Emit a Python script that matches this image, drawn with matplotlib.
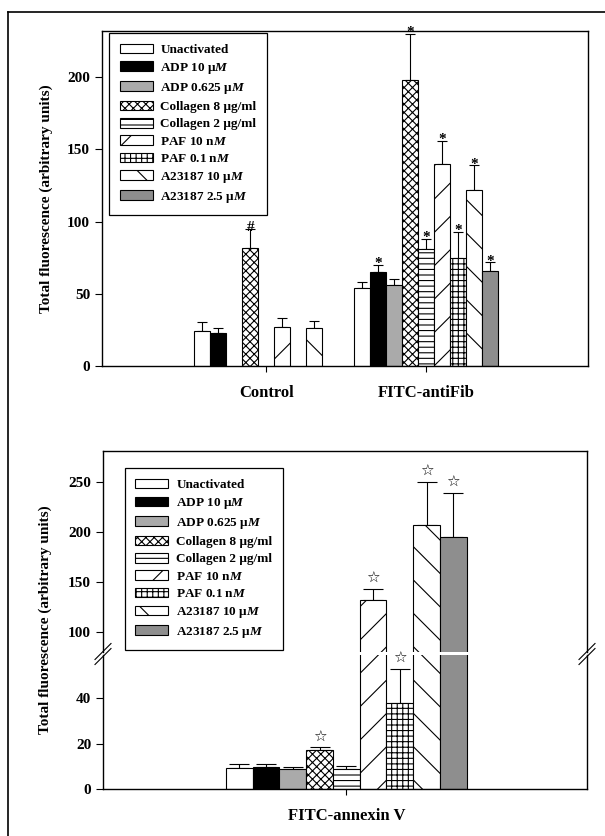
import numpy as np
import matplotlib
matplotlib.use('Agg')
import matplotlib.pyplot as plt
from matplotlib.lines import Line2D

plt.rcParams['font.family'] = ['Liberation Serif', 'DejaVu Sans']
plt.rcParams['font.weight'] = 'bold'
plt.rcParams['axes.labelweight'] = 'bold'
plt.rcParams['mathtext.fontset'] = 'custom'
plt.rcParams['mathtext.rm'] = 'Liberation Serif:bold'
plt.rcParams['mathtext.it'] = 'Liberation Serif:italic:bold'
plt.rcParams['hatch.linewidth'] = 0.8
plt.rcParams['axes.linewidth'] = 1.0

nan = np.nan

# treatments (legend)
treatments = ['Unactivated', r'ADP 10 μ$\mathit{M}$', r'ADP 0.625 μ$\mathit{M}$',
              'Collagen 8 μg/ml', 'Collagen 2 μg/ml', r'PAF 10 n$\mathit{M}$',
              r'PAF 0.1 n$\mathit{M}$', r'A23187 10 μ$\mathit{M}$', r'A23187 2.5 μ$\mathit{M}$']

# top panel: fibrinogen binding
top_groups = ['Control', 'FITC-antiFib']
ctrl_mean = [24, 23, nan, 82, nan, 27, nan, 26, nan]
ctrl_err = [6.5, 3.5, nan, 13, nan, 6, nan, 5, nan]
ctrl_marks = ['', '', '', '#', '', '', '', '', '']
fib_mean = [54, 65, 56, 198, 81, 140, 75, 122, 66]
fib_err = [4, 5, 4, 32, 7, 16, 18, 17, 6]
fib_marks = ['', '*', '', '*', '*', '*', '*', '*', '*']

# bottom panel: annexin V binding
bot_group = 'FITC-annexin V'
anx_mean = [9.2, 9.6, 8.8, 17, 8.8, 132, 38, 207, 195]
anx_err = [1.6, 1.4, 0.8, 1.4, 1.2, 11, 15, 43, 44]
anx_marks = ['', '', '', '☆', '', '☆', '☆', '☆', '☆']

faces = ['white', 'black', '#aaaaaa', 'white', 'white', 'white', 'white', 'white', '#8e8e8e']
hatches = [None, None, None, 'xxxx', '---', '/', '+++', '\\', None]

W, H = 605, 836
fig = plt.figure(figsize=(W / 100, H / 100), dpi=100)

def px_axes(x0, y0, x1, y1):
    return fig.add_axes([x0 / W, 1 - y1 / H, (x1 - x0) / W, (y1 - y0) / H])

def draw_bars(ax, centers, means, errs, width, capsize):
    n = len(treatments)
    handles = []
    for i in range(n):
        xs = [c + (i - (n - 1) / 2) * width for c in centers]
        hs = [m[i] for m in means]
        es = [e[i] for e in errs]
        b = ax.bar(xs, hs, width=width, color=faces[i], edgecolor='black',
                   hatch=hatches[i], linewidth=0.8, label=treatments[i], zorder=2)
        ax.errorbar(xs, hs, yerr=[[0] * len(hs), es], fmt='none', ecolor='black',
                    elinewidth=0.8, capsize=capsize, capthick=0.8, zorder=1)
        handles.append(b)
    return handles

def draw_marks(ax, centers, means, errs, marks, width, size, fam=None, dy=0):
    n = len(treatments)
    for c, m, e, mk in zip(centers, means, errs, marks):
        for i in range(n):
            if mk[i]:
                x = c + (i - (n - 1) / 2) * width
                kw = {'family': fam} if fam else {}
                ax.annotate(mk[i], (x, m[i] + e[i]), xytext=(0, dy), textcoords='offset points',
                            ha='center', va='bottom', fontsize=size, clip_on=False, **kw)

def bold_ticks(ax):
    for t in ax.get_xticklabels() + ax.get_yticklabels():
        t.set_fontweight('bold')

leg_kw = dict(fontsize=9.5, frameon=True, fancybox=False, edgecolor='black', framealpha=1,
              handlelength=2.5, handleheight=0.75, labelspacing=0.37, borderpad=0.8,
              handletextpad=0.6, borderaxespad=0)

# ---- top panel
ax1 = px_axes(102, 31, 588, 366)
bw = 0.1
centers = [0, 1]
handles = draw_bars(ax1, centers, [ctrl_mean, fib_mean], [ctrl_err, fib_err], bw, 3.5)
draw_marks(ax1, centers, [ctrl_mean, fib_mean], [ctrl_err, fib_err],
           [ctrl_marks, fib_marks], bw, 11, dy=-4)
ax1.set_xlim(-1.025, 2.01)
ax1.set_ylim(0, 232)
ax1.set_yticks([0, 50, 100, 150, 200])
ax1.set_xticks(centers)
ax1.set_xticklabels(top_groups, fontsize=12)
ax1.tick_params(axis='x', length=4, pad=10)
ax1.tick_params(axis='y', length=5, labelsize=11, direction='out')
ax1.set_ylabel('Total fluorescence (arbitrary units)', fontsize=11, labelpad=10)
bold_ticks(ax1)
ax1.legend(handles=handles, loc='upper left', bbox_to_anchor=(0.0144, 0.994),
           **leg_kw).get_frame().set_linewidth(0.9)

# ---- bottom panel (broken axis)
axu = px_axes(103, 451, 587, 652)
axl = px_axes(103, 655, 587, 789)
bw2 = 0.1
c2 = [0]
for ax in (axu, axl):
    h2 = draw_bars(ax, c2, [anx_mean], [anx_err], bw2, 7)
    ax.set_xlim(-0.91, 0.90)
axu.set_ylim(80, 281)
axl.set_ylim(0, 59)
axu.set_yticks([100, 150, 200, 250])
axl.set_yticks([0, 20, 40])
axu.spines['bottom'].set_visible(False)
axl.spines['top'].set_visible(False)
axu.set_xticks([])
axl.set_xticks(c2)
axl.set_xticklabels([bot_group], fontsize=12)
axl.tick_params(axis='x', length=4, pad=10)
for ax in (axu, axl):
    ax.tick_params(axis='y', length=5, labelsize=11, direction='out')
    bold_ticks(ax)

up_m = [m if m >= 80 else nan for m in anx_mean]
lo_m = [m if m < 80 else nan for m in anx_mean]
draw_marks(axu, c2, [up_m], [anx_err], [anx_marks], bw2, 11, fam=['DejaVu Sans'], dy=2)
draw_marks(axl, c2, [lo_m], [anx_err], [anx_marks], bw2, 11, fam=['DejaVu Sans'], dy=2)

axu.legend(handles=h2, loc='upper left', bbox_to_anchor=(0.045, 0.915),
           **leg_kw).get_frame().set_linewidth(0.9)

fig.text(45 / W, 1 - 620 / H, 'Total fluorescence (arbitrary units)', rotation=90,
         ha='center', va='center', fontsize=11)

# axis break marks
for xc in (103, 587):
    for off in (-2.5, 2.5):
        x = [(xc - 8) / W, (xc + 8) / W]
        y = [1 - (662 + off) / H, 1 - (646 + off) / H]
        fig.add_artist(Line2D(x, y, color='black', lw=0.8))

# scan border (top and left edges)
fig.add_artist(Line2D([8 / W, 1], [1 - 12 / H, 1 - 12 / H], color='black', lw=1.2))
fig.add_artist(Line2D([8 / W, 8 / W], [0, 1 - 12 / H], color='black', lw=1.2))

fig.savefig('out.png', dpi=100)
